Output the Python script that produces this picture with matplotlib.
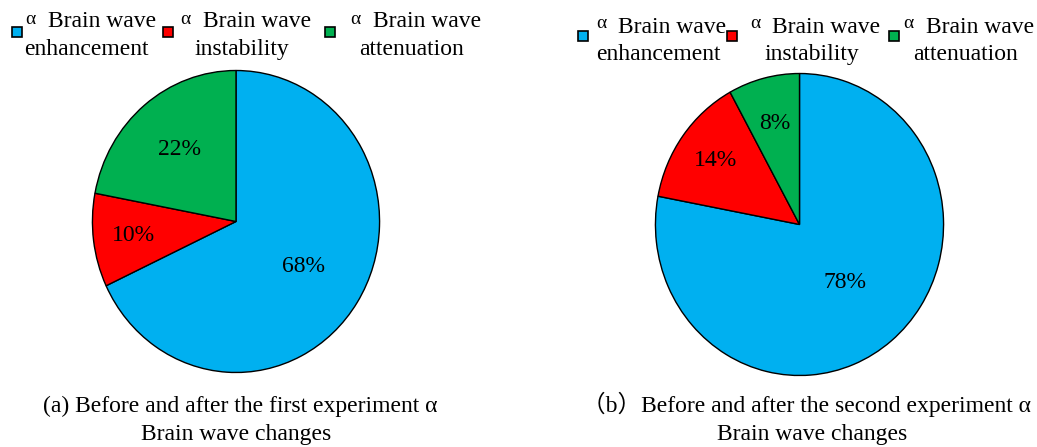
import matplotlib
matplotlib.use('Agg')
import matplotlib.pyplot as plt
import numpy as np
from matplotlib.patches import Rectangle

categories_line1 = ['Brain wave', 'Brain wave', 'Brain wave']
categories_line2 = ['enhancement', 'instability', 'attenuation']
first_values = [68, 10, 22]
second_values = [78, 14, 8]
colors = ['#00B0F0', '#FF0000', '#00B050']
caption_a = ['(a) Before and after the first experiment α', 'Brain wave changes']
caption_b = ['（b）Before and after the second experiment α', 'Brain wave changes']

W, H = 1037, 447
plt.rcParams['font.family'] = ['Liberation Serif', 'Noto Sans CJK SC', 'DejaVu Sans']
fig = plt.figure(figsize=(W / 100, H / 100), dpi=100)
FS = 17


def fx(x):
    return x / W


def fy(y):
    return 1 - y / H


def px_axes(x0, y0, x1, y1):
    return fig.add_axes([x0 / W, 1 - y1 / H, (x1 - x0) / W, (y1 - y0) / H])


def draw_pie(box, values, label_r):
    ax = px_axes(*box)
    wedges, _ = ax.pie(values, colors=colors, startangle=90, counterclock=False,
                       wedgeprops=dict(edgecolor='black', linewidth=1.0))
    ax.set_aspect('auto')
    ax.set_xlim(-1.01, 1.01)
    ax.set_ylim(-1.01, 1.01)
    for w, v, r in zip(wedges, values, label_r):
        mid = np.deg2rad((w.theta1 + w.theta2) / 2)
        ax.text(r * np.cos(mid), r * np.sin(mid), f'{v}%', ha='center',
                va='center', fontsize=FS)
    return ax


draw_pie((91, 69, 381, 374), first_values, [0.56, 0.72, 0.62])
draw_pie((654, 72, 945, 377), second_values, [0.5, 0.72, 0.69])


def draw_legend(sq_x, sq_y, a_x, a_base, t_x, t_base, c2_x, c2_base):
    for i in range(3):
        fig.patches.append(Rectangle((fx(sq_x[i]), fy(sq_y + 10)), 10 / W, 10 / H,
                                     transform=fig.transFigure, facecolor=colors[i],
                                     edgecolor='black', linewidth=1.2))
        fig.text(fx(a_x[i]), fy(a_base), 'α', fontsize=14, ha='left', va='baseline')
        fig.text(fx(t_x[i]), fy(t_base), categories_line1[i], fontsize=FS,
                 ha='left', va='baseline')
        fig.text(fx(c2_x[i]), fy(c2_base), categories_line2[i], fontsize=FS,
                 ha='center', va='baseline')


draw_legend([12, 163, 325], 27, [25, 180, 350], 24, [48, 203, 373], 27,
            [86, 242, 412], 55)
draw_legend([578, 727, 889], 31, [596, 750, 903], 28, [618, 772, 926], 33,
            [658, 812, 965], 60)

fig.text(fx(240), fy(412), caption_a[0], fontsize=FS, ha='center', va='baseline')
fig.text(fx(236), fy(440), caption_a[1], fontsize=FS, ha='center', va='baseline')
fig.text(fx(807), fy(412), caption_b[0], fontsize=FS, ha='center', va='baseline')
fig.text(fx(812), fy(440), caption_b[1], fontsize=FS, ha='center', va='baseline')

fig.savefig('out.png', dpi=100)
